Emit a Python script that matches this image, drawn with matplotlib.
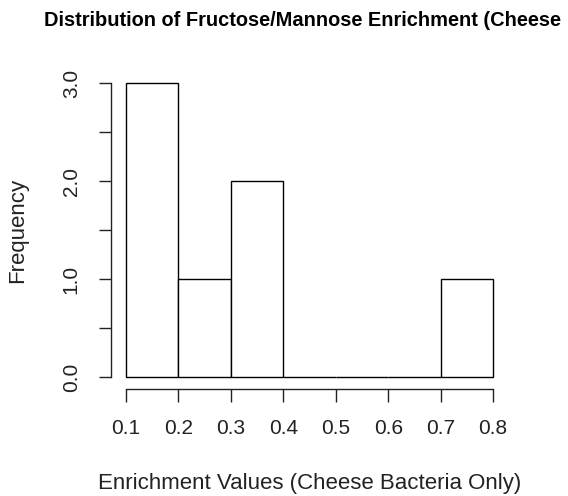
import numpy as np
import matplotlib.pyplot as plt

plt.rcParams['font.family'] = ['Liberation Sans', 'DejaVu Sans']

# Bin edges and counts
bin_edges = [0.1, 0.2, 0.3, 0.4, 0.5, 0.6, 0.7, 0.8]
counts = [3, 1, 2, 0, 0, 0, 1]
x_ticks = [0.1, 0.2, 0.3, 0.4, 0.5, 0.6, 0.7, 0.8]
y_ticks = [0.0, 0.5, 1.0, 1.5, 2.0, 2.5, 3.0]
y_labels = ["0.0", "", "1.0", "", "2.0", "", "3.0"]

fig = plt.figure(figsize=(5.68, 4.96), dpi=100)
ax = fig.add_axes([0.196, 0.216, 0.698, 0.640])

widths = np.diff(bin_edges)
ax.bar(bin_edges[:-1], counts, width=widths, align='edge',
       color='white', edgecolor='black', linewidth=1.0)

ax.set_xlim(0.072, 0.828)
ax.set_ylim(-0.12, 3.12)

for s in ['top', 'right']:
    ax.spines[s].set_visible(False)
ax.spines['left'].set_bounds(0, 3)
ax.spines['bottom'].set_bounds(0.1, 0.8)
for s in ['left', 'bottom']:
    ax.spines[s].set_linewidth(1.0)
    ax.spines[s].set_color('#222222')

ax.set_xticks(x_ticks)
ax.set_xticklabels([f"{v:.1f}" for v in x_ticks])
ax.set_yticks(y_ticks)
ax.set_yticklabels(y_labels, rotation=90, va='center')
ax.tick_params(axis='both', length=9, width=1.0, color='#222222',
               labelsize=15, pad=13, labelcolor='#222222')

ax.set_xlabel("Enrichment Values (Cheese Bacteria Only)", fontsize=16,
              labelpad=25, color='#222222')
ax.set_ylabel("Frequency", fontsize=16, labelpad=24, color='#222222')

fig.text(44 / 568, 1 - 20 / 496, "Distribution of Fructose/Mannose Enrichment (Cheese",
         fontsize=14.4, fontweight='bold', ha='left', va='center')

fig.savefig("out.png", dpi=100)
